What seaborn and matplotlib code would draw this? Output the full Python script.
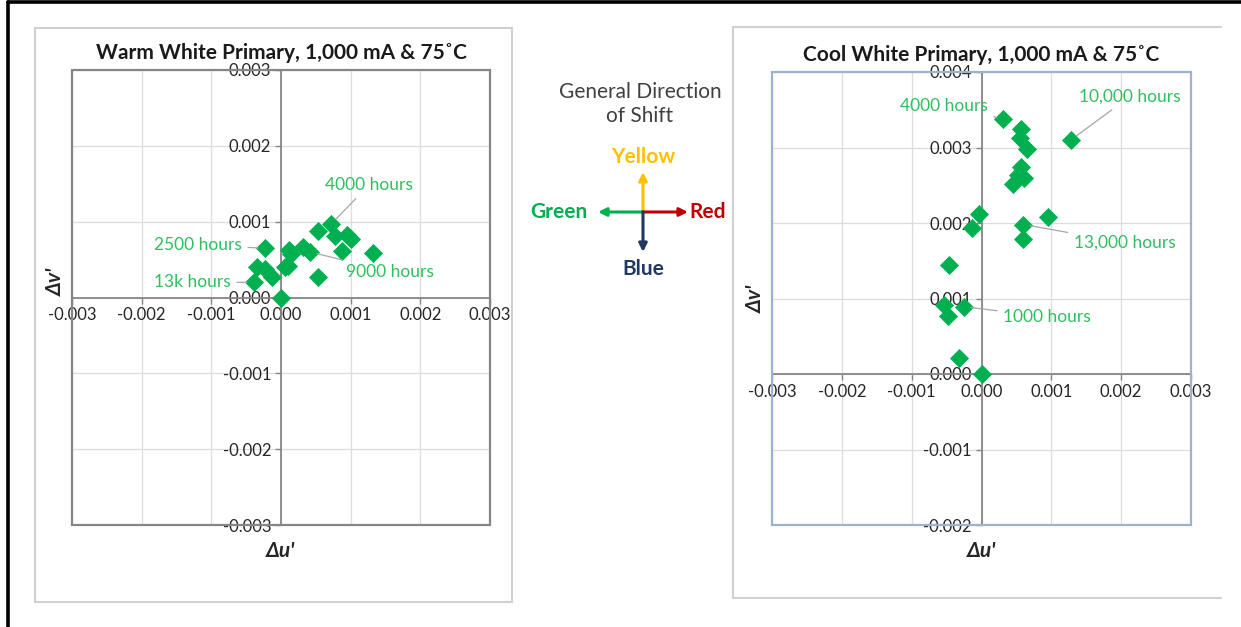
import matplotlib
matplotlib.use("Agg")
import matplotlib.pyplot as plt
from matplotlib.patches import Rectangle, FancyArrowPatch
from matplotlib.lines import Line2D
import numpy as np
import pandas as pd
import seaborn as sns

# ---- data: chromaticity shift (delta u', delta v') over time ----
warm_du = [0.0, -0.00023, -0.00039, -0.00034, -0.00023, -0.000135, 0.00006, 0.0001,
           0.00012, 0.00014, 0.00032, 0.00042, 0.00053, 0.00053, 0.00072, 0.00077,
           0.00087, 0.00095, 0.00101, 0.00132]
warm_dv = [0.0, 0.00065, 0.0002, 0.0004, 0.00038, 0.00027, 0.0004, 0.00041,
           0.00062, 0.00058, 0.00066, 0.0006, 0.00088, 0.00027, 0.00097, 0.00081,
           0.00061, 0.00082, 0.00077, 0.00059]

cool_du = [0.00031, 0.00056, 0.00055, 0.00065, 0.00128, 0.00056, 0.00061, 0.00052,
           0.00045, -0.00004, -0.00014, 0.00095, 0.0006, 0.0006, -0.00047, -0.00054,
           -0.00048, -0.00025, -0.00032, 0.0]
cool_dv = [0.00338, 0.00324, 0.00312, 0.00298, 0.0031, 0.00274, 0.0026, 0.00263,
           0.00252, 0.00212, 0.00194, 0.00208, 0.00198, 0.00179, 0.00145, 0.00092,
           0.00077, 0.00089, 0.00021, 0.0]

# callouts: (label, index of labelled point)
warm_labels = [("4000 hours", 14), ("2500 hours", 1), ("9000 hours", 11), ("13k hours", 2)]
cool_labels = [("4000 hours", 0), ("10,000 hours", 4), ("13,000 hours", 12), ("1000 hours", 17)]

warm_xticks = [-0.003, -0.002, -0.001, 0.0, 0.001, 0.002, 0.003]
warm_yticks = [-0.003, -0.002, -0.001, 0.0, 0.001, 0.002, 0.003]
cool_xticks = [-0.003, -0.002, -0.001, 0.0, 0.001, 0.002, 0.003]
cool_yticks = [-0.002, -0.001, 0.0, 0.001, 0.002, 0.003, 0.004]

warm_title = "Warm White Primary, 1,000 mA & 75\u02daC"
cool_title = "Cool White Primary, 1,000 mA & 75\u02daC"

sns.set_theme(style="white")
plt.rcParams["font.family"] = ["Lato", "DejaVu Sans"]

W, H = 1241, 627
fig = plt.figure(figsize=(W / 100, H / 100), dpi=100)
fig.patch.set_facecolor("white")


def fx(x):
    return x / W


def fy(y):
    return 1 - y / H


MARK = "#00b050"
LABEL = "#2fbf5f"
LEADER = "#a6a6a6"
AXIS = "#868686"
GRID = "#dcdcdc"

# outer page border (left and top)
fig.add_artist(Line2D([fx(8), fx(8)], [0, fy(2)], color="black", lw=2.6))
fig.add_artist(Line2D([fx(8), 1], [fy(2), fy(2)], color="black", lw=2.6))

# chart panels
panel_c = "#d0d0d0"
fig.add_artist(Rectangle((fx(35), fy(602)), fx(512) - fx(35), fy(28) - fy(602),
                         transform=fig.transFigure, fill=False, ec=panel_c, lw=1.5))
for xs, ys in [([733, 733], [27, 598]), ([733, 1221], [27, 27]), ([733, 1221], [598, 598])]:
    fig.add_artist(Line2D([fx(v) for v in xs], [fy(v) for v in ys], color=panel_c, lw=1.5))


def make_panel(rect_px, du, dv, xticks, yticks, title, labels, frame_c, ann, ylab_y):
    x0, y0, x1, y1 = rect_px
    ax = fig.add_axes([fx(x0), fy(y1), fx(x1) - fx(x0), fy(y0) - fy(y1)])
    df = pd.DataFrame({"du": du, "dv": dv})
    sns.scatterplot(data=df, x="du", y="dv", marker="D", s=95, color=MARK,
                    edgecolor=MARK, linewidth=0, ax=ax, zorder=4)
    ax.set_xlim(xticks[0], xticks[-1])
    ax.set_ylim(yticks[0], yticks[-1])
    ax.set_xticks(xticks)
    ax.set_yticks(yticks)
    ax.set_xticklabels([f"{t:.3f}" for t in xticks])
    ax.set_yticklabels([f"{t:.3f}" for t in yticks])
    ax.grid(True, color=GRID, lw=0.9)
    ax.set_axisbelow(True)
    for s in ["top", "right"]:
        ax.spines[s].set_visible(False)
    ax.spines["left"].set_position(("data", 0))
    ax.spines["bottom"].set_position(("data", 0))
    for s in ["left", "bottom"]:
        ax.spines[s].set_color(AXIS)
        ax.spines[s].set_linewidth(1.3)
    ax.add_patch(Rectangle((0, 0), 1, 1, transform=ax.transAxes, fill=False,
                           ec=frame_c, lw=1.6, clip_on=False, zorder=5))
    ax.tick_params(axis="both", direction="out", length=4, width=1, color=AXIS,
                   labelsize=12, labelcolor="#262626", pad=3,
                   left=True, bottom=True)
    ax.set_xlabel("\u0394u'", fontsize=15, fontweight="bold", style="italic")
    ax.set_ylabel("\u0394v'", fontsize=15, fontweight="bold", style="italic")
    ax.xaxis.set_label_coords(0.5, -0.035)
    ax.yaxis.set_label_coords(-0.014, ylab_y)
    ax.set_title(title, fontsize=15, fontweight="bold", color="#1a1a1a", pad=8)
    for (txt, i), (tx, ty, ha) in zip(labels, ann):
        ax.annotate(txt, xy=(du[i], dv[i]), xytext=(tx, ty), ha=ha, va="center",
                    fontsize=12.5, color=LABEL, zorder=6,
                    arrowprops=dict(arrowstyle="-", color=LEADER, lw=0.9,
                                    shrinkA=2, shrinkB=5))
    return ax


make_panel((72, 70, 490, 525), warm_du, warm_dv, warm_xticks, warm_yticks,
           warm_title, warm_labels, AXIS,
           [(0.00063, 0.00148, "left"), (-0.00056, 0.00069, "right"),
            (0.00094, 0.00034, "left"), (-0.00072, 0.0002, "right")], 0.535)

make_panel((772, 72, 1191, 525), cool_du, cool_dv, cool_xticks, cool_yticks,
           cool_title, cool_labels, "#9db2cc",
           [(0.00009, 0.00355, "right"), (0.00139, 0.00367, "left"),
            (0.00132, 0.00174, "left"), (0.00031, 0.00076, "left")], 0.5)

# direction-of-shift legend
fig.text(fx(640), fy(104), "General Direction\nof Shift", ha="center", va="center",
         fontsize=15, color="#404040", linespacing=1.3)
cx, cy = 643, 212
arrows = [((cx, 172), "#ffc000"), ((598, cy), "#00b050"),
          ((688, cy), "#c00000"), ((cx, 252), "#1f3864")]
for (ex, ey), col in arrows:
    fig.add_artist(FancyArrowPatch((fx(cx), fy(cy)), (fx(ex), fy(ey)),
                                   transform=fig.transFigure, arrowstyle="-|>",
                                   mutation_scale=12, color=col, lw=2.2,
                                   shrinkA=0, shrinkB=0))
for txt, (tx, ty), col in [("Yellow", (643, 157), "#ffc000"), ("Green", (559, 212), "#00b050"),
                           ("Red", (708, 212), "#c00000"), ("Blue", (643, 269), "#1f3864")]:
    fig.text(fx(tx), fy(ty), txt, ha="center", va="center", fontsize=15,
             fontweight="bold", color=col)

fig.savefig("out.png", dpi=100, facecolor="white")
